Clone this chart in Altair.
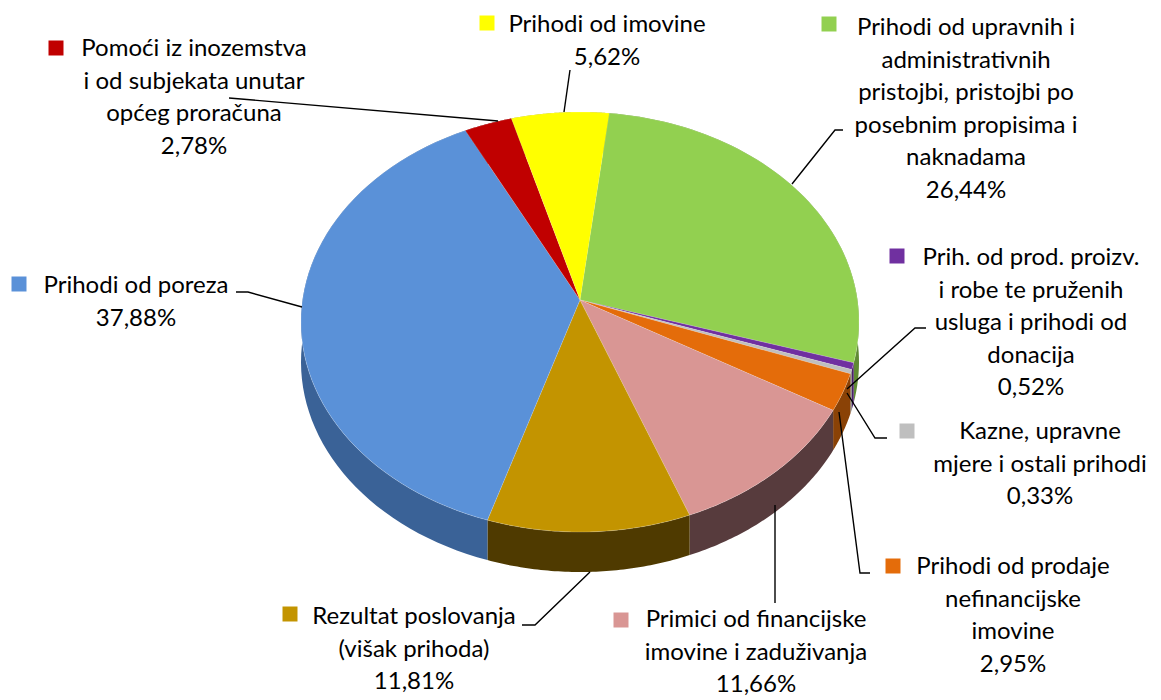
import math
import altair as alt
import pandas as pd

# ---------------- data ----------------
categories = [
    "Prihodi od upravnih i administrativnih pristojbi, pristojbi po posebnim propisima i naknadama",
    "Prih. od prod. proizv. i robe te pruženih usluga i prihodi od donacija",
    "Kazne, upravne mjere i ostali prihodi",
    "Prihodi od prodaje nefinancijske imovine",
    "Primici od financijske imovine i zaduživanja",
    "Rezultat poslovanja (višak prihoda)",
    "Prihodi od poreza",
    "Pomoći iz inozemstva i od subjekata unutar općeg proračuna",
    "Prihodi od imovine",
]
values = [26.44, 0.52, 0.33, 2.95, 11.66, 11.81, 37.88, 2.78, 5.62]
label_lines = [
    ["Prihodi od upravnih i", "administrativnih", "pristojbi, pristojbi po", "posebnim propisima i", "naknadama"],
    ["Prih. od prod. proizv.", "i robe te pruženih", "usluga i prihodi od", "donacija"],
    ["Kazne, upravne", "mjere i ostali prihodi"],
    ["Prihodi od prodaje", "nefinancijske", "imovine"],
    ["Primici od financijske", "imovine i zaduživanja"],
    ["Rezultat poslovanja", "(višak prihoda)"],
    ["Prihodi od poreza"],
    ["Pomoći iz inozemstva", "i od subjekata unutar", "općeg proračuna"],
    ["Prihodi od imovine"],
]

# ---------------- styles ----------------
top_colors = ["#92D050", "#7030A0", "#BFBFBF", "#E46C0A", "#D99694",
              "#C39400", "#5A91D8", "#C00000", "#FFFF00"]
wall_colors = ["#5F8A33", "#4A1F6B", "#7F7F7F", "#8A4206", "#573B3D",
               "#4F3A00", "#3A6297", "#800000", "#A6A600"]

# ---------------- layout (annotation placement, page pixels) ----------------
label_x = [966, 1031, 1040, 1013, 756, 414, 136, 194, 607]
label_y = [28, 258, 432, 567, 620, 617, 286, 49, 25]
marker_x = [829, 897, 907, 893, 621, 290, 19, 56, 487]
marker_y = [24, 256, 431, 566, 620, 614, 284, 48, 23]
leaders = [
    [(843, 130), (835, 130), (792, 184)],
    [(926, 328), (915, 328), (847, 389)],
    [(887, 438), (875, 438), (847, 393)],
    [(870, 573), (860, 573), (839, 412)],
    [(775, 603), (775, 505)],
    [(522, 625), (535, 625), (590, 572)],
    [(236, 292), (248, 292), (302, 307)],
    [(229, 98), (498, 121)],
    [(570, 70), (564, 112)],
]

CX, CY, RX, RY = 580, 322, 279, 210      # top ellipse
AX, AY = 580, 300                        # apex (perspective)
DEPTH = 40
START = math.radians(6.0)
N = 60
FONT = "Lato"
FS = 24
LH = 32.5

W, H = 1145, 684
xs = alt.Scale(domain=[8, 8 + W], nice=False, zero=False)
ys = alt.Scale(domain=[8, 8 + H], nice=False, zero=False, reverse=True)

pie_df = pd.DataFrame({
    "cat": categories,
    "value": values,
    "order": list(range(len(categories))),
    "top": top_colors,
    "wall": wall_colors,
    "k": [list(range(-1, N + 1)) for _ in categories],
    "j": [list(range(0, 2 * N + 2)) for _ in categories],
})


def angles(ch):
    return (ch.transform_window(cum="sum(value)", sort=[alt.SortField("order")], frame=[None, 0])
              .transform_joinaggregate(total="sum(value)")
              .transform_calculate(
                  a0=f"{START} + 2*PI*(datum.cum - datum.value)/datum.total",
                  a1=f"{START} + 2*PI*datum.cum/datum.total"))


walls = (angles(alt.Chart(pie_df))
         .transform_flatten(["j"])
         .transform_calculate(t=f"datum.j <= {N} ? datum.j/{N} : ({2*N+1} - datum.j)/{N}",
                              off=f"datum.j <= {N} ? 0 : {DEPTH}")
         .transform_calculate(ang="datum.a0 + (datum.a1 - datum.a0)*datum.t")
         .transform_calculate(px=f"{CX} + {RX}*sin(datum.ang)",
                              py=f"{CY} - {RY}*cos(datum.ang) + datum.off")
         .mark_line(filled=True, strokeWidth=0)
         .encode(x=alt.X("px:Q", scale=xs, axis=None),
                 y=alt.Y("py:Q", scale=ys, axis=None),
                 color=alt.Color("wall:N", scale=None),
                 detail="cat:N",
                 order=alt.Order("j:Q")))

tops = (angles(alt.Chart(pie_df))
        .transform_flatten(["k"])
        .transform_calculate(ang=f"datum.a0 + (datum.a1 - datum.a0)*max(datum.k, 0)/{N}")
        .transform_calculate(px=f"datum.k < 0 ? {AX} : {CX} + {RX}*sin(datum.ang)",
                             py=f"datum.k < 0 ? {AY} : {CY} - {RY}*cos(datum.ang)")
        .mark_line(filled=True, stroke="#FFFFFF", strokeWidth=0.4, strokeOpacity=0.5)
        .encode(x=alt.X("px:Q", scale=xs, axis=None),
                y=alt.Y("py:Q", scale=ys, axis=None),
                color=alt.Color("top:N", scale=None),
                detail="cat:N",
                order=alt.Order("k:Q")))

# leader lines
lead_rows = []
for c, pts in zip(categories, leaders):
    for s, (px, py) in enumerate(pts):
        lead_rows.append({"cat": c, "seq": s, "px": px, "py": py})
lead_df = pd.DataFrame(lead_rows)
lead = (alt.Chart(lead_df).mark_line(color="#000000", strokeWidth=1.4)
        .encode(x=alt.X("px:Q", scale=xs, axis=None),
                y=alt.Y("py:Q", scale=ys, axis=None),
                detail="cat:N", order=alt.Order("seq:Q")))

lab_df = pd.DataFrame({
    "cat": categories,
    "value": values,
    "top": top_colors,
    "line": label_lines,
    "li": [list(range(len(l))) for l in label_lines],
    "n": [len(l) for l in label_lines],
    "lx": label_x, "ly": label_y,
    "mx": marker_x, "my": marker_y,
})

name_text = (alt.Chart(lab_df).transform_flatten(["line", "li"])
             .transform_calculate(ty=f"datum.ly + datum.li*{LH}")
             .mark_text(font=FONT, fontSize=FS, color="#000000", align="center", baseline="middle")
             .encode(x=alt.X("lx:Q", scale=xs, axis=None),
                     y=alt.Y("ty:Q", scale=ys, axis=None),
                     text="line:N"))

pct_text = (alt.Chart(lab_df)
            .transform_calculate(ty=f"datum.ly + datum.n*{LH}",
                                 pct="replace(format(datum.value, '.2f'), '.', ',') + '%'")
            .mark_text(font=FONT, fontSize=FS, color="#000000", align="center", baseline="middle")
            .encode(x=alt.X("lx:Q", scale=xs, axis=None),
                    y=alt.Y("ty:Q", scale=ys, axis=None),
                    text="pct:N"))

markers = (alt.Chart(lab_df).mark_square(size=225, opacity=1)
           .encode(x=alt.X("mx:Q", scale=xs, axis=None),
                   y=alt.Y("my:Q", scale=ys, axis=None),
                   color=alt.Color("top:N", scale=None)))

chart = (alt.layer(walls, tops, lead, name_text, pct_text, markers)
         .properties(width=W, height=H, padding=0, background="#FFFFFF")
         .configure_view(stroke=None))

chart.save("out.html", embed_options={"renderer": "svg", "actions": False})
